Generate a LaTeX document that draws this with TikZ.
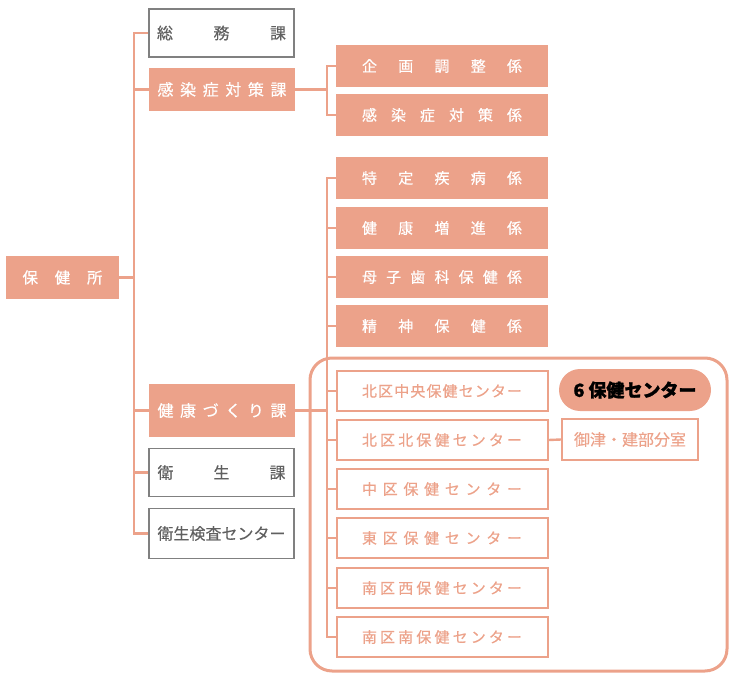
\documentclass[tikz,border=0pt]{standalone}
\usepackage{fontspec}
\setmainfont{Noto Sans CJK JP}[FakeBold=0.4, BoldFeatures={FakeBold=1.2}]
\usetikzlibrary{positioning, calc}
\definecolor{salmon}{RGB}{236,162,138}
\definecolor{graybox}{RGB}{128,128,128}
\definecolor{graytext}{RGB}{96,96,96}
\tikzstyle{unit} = [rectangle, minimum width=146pt, minimum height=43pt, inner sep=0pt, text centered, fill=salmon, text=white, font=\fontsize{16}{18}\selectfont]
\tikzstyle{unit_plain} = [rectangle, minimum width=145pt, minimum height=48pt, inner sep=0pt, text centered, draw=graybox, line width=1.5pt, text=graytext, font=\fontsize{16}{18}\selectfont]
\tikzstyle{section} = [rectangle, minimum width=212pt, minimum height=42pt, inner sep=0pt, text centered, fill=salmon, text=white, font=\fontsize{15}{18}\selectfont]
\tikzstyle{hcenter} = [rectangle, minimum width=211pt, minimum height=40pt, inner sep=0pt, text centered, draw=salmon, line width=2pt, text=salmon, font=\fontsize{15}{18}\selectfont]
\tikzstyle{line_solid} = [line width=2.4pt, draw=salmon]
\newcommand{\spreadtext}[2]{\makebox[#1pt][s]{#2}}

\begin{document}
\begin{tikzpicture}[x=1pt, y=-1pt]
	\useasboundingbox (0,0) rectangle (729,674);

		\node (hokenjo) at (62.5,277.5) [unit, minimum width=113pt, font=\fontsize{15.5}{18}\selectfont] {\spreadtext{80}{保\hfill 健\hfill 所}};

		\node (somu) at (221.5,33) [unit_plain] {\spreadtext{129}{総\hfill 務\hfill 課}};
		\node (kansenka) at (222,89.5) [unit] {\spreadtext{129}{感\hfill 染\hfill 症\hfill 対\hfill 策\hfill 課}};
		\node (zukuri) at (222,410.5) [unit, minimum height=53pt] {\spreadtext{129}{健\hfill 康\hfill づ\hfill く\hfill り\hfill 課}};
		\node (eisei) at (221.5,472.5) [unit_plain] {\spreadtext{128}{衛\hfill 生\hfill 課}};
		\node (kensa) at (221.5,533.5) [unit_plain, minimum height=50pt] {\spreadtext{128}{衛生検査センター}};

		\node (kikaku) at (442,66) [section] {\spreadtext{160}{企\hfill 画\hfill 調\hfill 整\hfill 係}};
		\node (kansenkakari) at (442,115) [section] {\spreadtext{160}{感\hfill 染\hfill 症\hfill 対\hfill 策\hfill 係}};
		\node (tokutei) at (442,178) [section] {\spreadtext{160}{特\hfill 定\hfill 疾\hfill 病\hfill 係}};
		\node (zoshin) at (442,228) [section] {\spreadtext{160}{健\hfill 康\hfill 増\hfill 進\hfill 係}};
		\node (boshi) at (442,277) [section] {\spreadtext{160}{母\hfill 子\hfill 歯\hfill 科\hfill 保\hfill 健\hfill 係}};
		\node (seishin) at (442,326) [section] {\spreadtext{160}{精\hfill 神\hfill 保\hfill 健\hfill 係}};

		\node (kitachuo) at (442,391) [hcenter] {\spreadtext{160}{北\hfill 区\hfill 中\hfill 央\hfill 保\hfill 健\hfill セ\hfill ン\hfill タ\hfill ー}};
		\node (kitakita) at (442,440) [hcenter] {\spreadtext{160}{北\hfill 区\hfill 北\hfill 保\hfill 健\hfill セ\hfill ン\hfill タ\hfill ー}};
		\node (naka) at (442,489) [hcenter] {\spreadtext{160}{中\hfill 区\hfill 保\hfill 健\hfill セ\hfill ン\hfill タ\hfill ー}};
		\node (higashi) at (442,538) [hcenter] {\spreadtext{160}{東\hfill 区\hfill 保\hfill 健\hfill セ\hfill ン\hfill タ\hfill ー}};
		\node (minaminishi) at (442,588) [hcenter] {\spreadtext{160}{南\hfill 区\hfill 西\hfill 保\hfill 健\hfill セ\hfill ン\hfill タ\hfill ー}};
		\node (minamiminami) at (442,637) [hcenter] {\spreadtext{160}{南\hfill 区\hfill 南\hfill 保\hfill 健\hfill セ\hfill ン\hfill タ\hfill ー}};

		\node (six) at (635,390) [rectangle, rounded corners=21pt, minimum width=152pt, minimum height=42pt, fill=salmon, text=black, font=\fontsize{18}{20}\selectfont\bfseries] {6\hspace{4pt}保健センター};
		\node (mitsu) at (630,439.5) [hcenter, minimum width=136pt, minimum height=41pt, font=\fontsize{16}{18}\selectfont] {御津・建部分室};

		% Frame around the health centres
		\node (frame) at (518.5,514.5) [rectangle, rounded corners=22pt, minimum width=417pt, minimum height=313pt, draw=salmon, line width=3pt] {};

		\coordinate (trunk) at (134,0);
		\coordinate (bus) at (327,0);

		% Lines from the office to its divisions
		\draw [line_solid] (somu.west) -- (somu.west -| trunk) -- (kensa.west -| trunk) -- (kensa.west);
		\draw [line_solid] (hokenjo.east) -- (hokenjo.east -| trunk);
		\draw [line_solid] (kansenka.west) -- (kansenka.west -| trunk);
		\draw [line_solid] (zukuri.west) -- (zukuri.west -| trunk);
		\draw [line_solid] (eisei.west) -- (eisei.west -| trunk);
		% -
		\draw [line_solid] (kansenka.east) -- (kansenka.east -| bus);
		\draw [line_solid] (kikaku.west) -- (kikaku.west -| bus) -- (kansenkakari.west -| bus) -- (kansenkakari.west);
		% -
		\draw [line_solid] (tokutei.west) -- (tokutei.west -| bus) -- (minamiminami.west -| bus) -- (minamiminami.west);
		\draw [line_solid] (zukuri.east) -- (zukuri.east -| bus);
		\foreach \n in {zoshin, boshi, seishin, kitachuo, kitakita, naka, higashi, minaminishi}
			\draw [line_solid] (\n.west) -- (\n.west -| bus);
		\draw [line_solid] (kitakita.east) -- (mitsu.west);

	\end{tikzpicture}
\end{document}
